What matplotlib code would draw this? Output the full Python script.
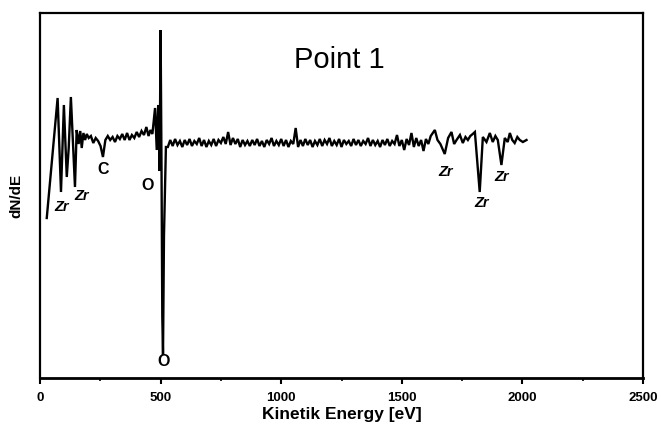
import matplotlib
matplotlib.use("Agg")
import matplotlib.pyplot as plt
from matplotlib.ticker import MultipleLocator

# Kinetic energy (eV) and dN/dE (arbitrary units)
energy_low = [28, 73, 87, 99, 111, 119, 128, 145, 152, 160, 167, 173, 180, 187,
              194, 202, 211, 221, 231, 241, 251, 261, 271, 281, 291, 301, 311,
              321, 331, 341, 351, 361, 371, 381, 391, 401, 411, 421, 431, 441,
              450, 458, 466, 477, 484, 490, 496, 500, 504, 507, 510, 514, 522]
signal_low = [158, 278, 184, 271, 199, 228, 279, 189, 246, 232, 245, 228, 243,
              236, 242, 238, 240, 233, 238, 235, 230, 219, 236, 240, 236, 239,
              234, 240, 237, 242, 236, 243, 236, 241, 238, 244, 239, 245, 241,
              249, 240, 246, 242, 268, 226, 271, 205, 346, 200, 60, 21, 140, 229]

energy_mid = [530, 540, 550, 560, 570, 580, 590, 600, 610, 620, 630, 640, 650,
              660, 670, 680, 690, 700, 710, 720, 730, 740, 750, 760, 770, 780,
              790, 800, 810, 820, 830, 840, 850, 860, 870, 880, 890, 900, 910,
              920, 930, 940, 950, 960, 970, 980, 990, 1000, 1010, 1020, 1030,
              1040, 1050, 1060, 1070, 1080, 1090, 1100, 1110, 1120, 1130, 1140,
              1150, 1160, 1170, 1180, 1190, 1200, 1210, 1220, 1230, 1240, 1250,
              1260, 1270, 1280, 1290, 1300, 1310, 1320, 1330, 1340, 1350, 1360,
              1370, 1380, 1390, 1400, 1410, 1420, 1430, 1440, 1450, 1460, 1470,
              1480, 1490, 1500, 1510, 1520, 1530, 1540, 1550, 1560, 1570, 1580,
              1590, 1600, 1610, 1620]
signal_mid = [229, 236, 230, 237, 231, 235, 229, 236, 231, 237, 230, 235, 232,
              238, 230, 236, 229, 235, 231, 237, 230, 236, 233, 239, 232, 244,
              231, 238, 232, 237, 229, 236, 231, 235, 230, 236, 231, 237, 230,
              235, 229, 236, 232, 238, 230, 235, 231, 237, 230, 236, 229, 235,
              232, 248, 229, 236, 230, 237, 231, 236, 229, 235, 231, 237, 230,
              236, 232, 238, 230, 235, 231, 237, 229, 236, 232, 235, 230, 237,
              231, 236, 230, 235, 232, 238, 230, 236, 231, 235, 229, 236, 231,
              237, 230, 235, 232, 241, 230, 236, 226, 237, 231, 243, 229, 238,
              230, 236, 225, 237, 232, 240]

energy_high = [1637, 1648, 1660, 1678, 1692, 1706, 1717, 1727, 1741, 1753, 1764,
               1774, 1784, 1794, 1803, 1823, 1836, 1851, 1865, 1877, 1888, 1898,
               1913, 1927, 1939, 1948, 1958, 1968, 1979, 1989, 2002, 2017]
signal_high = [246, 236, 232, 222, 238, 244, 232, 236, 241, 233, 239, 236, 240,
               242, 244, 184, 239, 234, 243, 234, 240, 236, 211, 238, 234, 243,
               236, 233, 239, 236, 234, 236]

peak_labels = ["Zr", "Zr", "C", "O", "O", "Zr", "Zr", "Zr"]
label_energy = [91, 174, 261, 448, 514, 1683, 1832, 1915]
label_signal = [169, 180, 206, 190, 14, 204, 173, 199]

xticks = [0, 500, 1000, 1500, 2000, 2500]

energy = energy_low + energy_mid + energy_high
signal = signal_low + signal_mid + signal_high

fig = plt.figure(figsize=(6.61, 4.29), dpi=100)
ax = fig.add_axes([40 / 661, 51 / 429, 603 / 661, 364.7 / 429])

ax.plot(energy, signal, color="black", lw=1.7, solid_joinstyle="miter")

for lab, ex, sy in zip(peak_labels, label_energy, label_signal):
    is_zr = lab == "Zr"
    ax.text(ex, sy, lab, ha="center", va="center",
            fontsize=10.5 if is_zr else 11.5,
            fontweight="bold", family="Liberation Sans",
            style="italic" if is_zr else "normal")

ax.text(1239, 316, "Point 1", ha="center", va="center", fontsize=21,
        family="Liberation Sans")

ax.set_xlim(0, 2500)
ax.set_ylim(-2, 362.7)
ax.set_xticks(xticks)
ax.set_xticklabels([str(t) for t in xticks], fontsize=9.5, fontweight="bold",
                   family="Liberation Sans")
ax.xaxis.set_minor_locator(MultipleLocator(250))
ax.tick_params(axis="x", which="major", direction="out", length=4, width=1.5, pad=6)
ax.tick_params(axis="x", which="minor", direction="out", length=2.5, width=1.2)
ax.set_yticks([])

for s in ax.spines.values():
    s.set_linewidth(1.6)
ax.spines["bottom"].set_linewidth(2.0)

ax.set_xlabel("Kinetik Energy [eV]", fontsize=12.5, fontweight="bold",
              family="Liberation Sans", labelpad=2)
ax.set_ylabel("dN/dE", fontsize=11, fontweight="bold", family="Liberation Sans",
              labelpad=12)

fig.savefig("out.png", dpi=100)
